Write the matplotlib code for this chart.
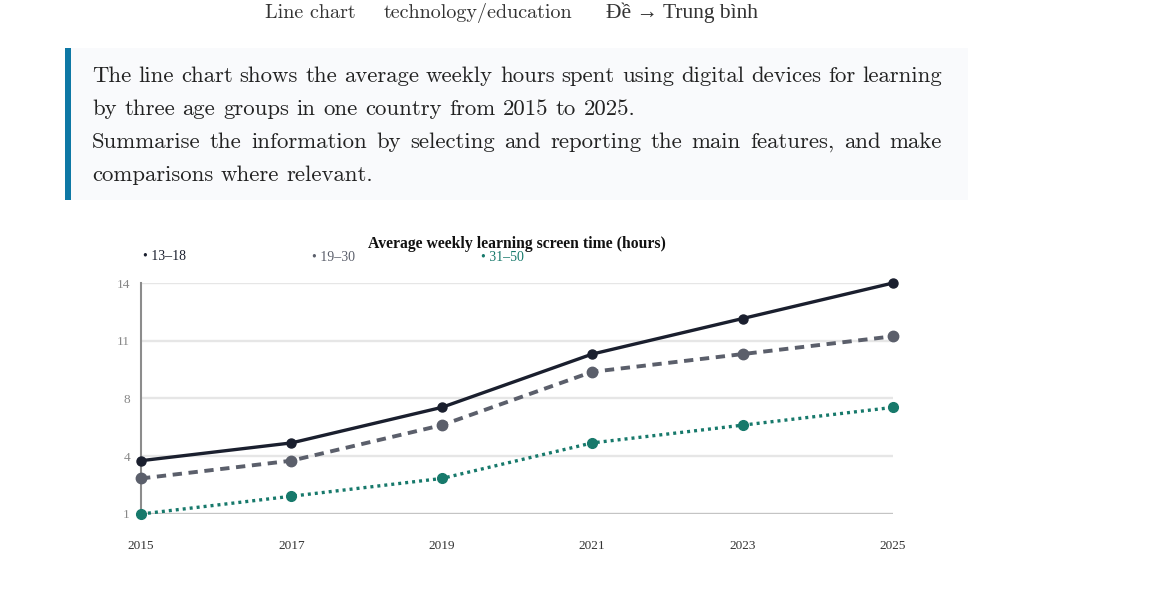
import matplotlib
matplotlib.use("Agg")
import matplotlib.pyplot as plt
from matplotlib.patches import Rectangle

# chart data
years = [2015, 2017, 2019, 2021, 2023, 2025]
age_groups = ["13–18", "19–30", "31–50"]
hours_13_18 = [4, 5, 7, 10, 12, 14]
hours_19_30 = [3, 4, 6, 9, 10, 11]
hours_31_50 = [1, 2, 3, 5, 6, 7]
y_ticks = [1, 4.25, 7.5, 10.75, 14]
y_tick_labels = ["1", "4", "8", "11", "14"]

chart_title = "Average weekly learning screen time (hours)"
header_items = ["Line chart", "technology/education", "Đề → Trung bình"]
para_lines = [
    "The line chart shows the average weekly hours spent using digital devices for learning",
    "by three age groups in one country from 2015 to 2025.",
    "Summarise the information by selecting and reporting the main features, and make",
    "comparisons where relevant.",
]

W, H = 1157, 605
fig = plt.figure(figsize=(W / 100, H / 100), dpi=100)
fig.patch.set_facecolor("white")

def fx(x):
    return x / W

def fy(y):
    return 1 - y / H

page_font = ["cmr10", "DejaVu Serif"]
chart_font = ["Liberation Serif", "DejaVu Serif"]

# header row at the top of the page (Vietnamese part needs a font with its accents)
header_fonts = [page_font, page_font, chart_font]
header_sizes = [14.5, 14.5, 15.5]
for label, x, fam, fs in zip(header_items, [265, 384, 606], header_fonts, header_sizes):
    fig.text(fx(x), fy(18), label, family=fam, fontsize=fs,
             color="#333333", va="baseline", ha="left")

# blockquote box
fig.patches.append(Rectangle((fx(65), fy(200)), fx(968) - fx(65), fy(48) - fy(200),
                             transform=fig.transFigure, facecolor="#f9fafc",
                             edgecolor="none", zorder=0))
fig.patches.append(Rectangle((fx(65), fy(200)), fx(71) - fx(65), fy(48) - fy(200),
                             transform=fig.transFigure, facecolor="#0e78a5",
                             edgecolor="none", zorder=1))

renderer = fig.canvas.get_renderer()

def text_width(s, **kw):
    t = fig.text(0, 0, s, **kw)
    w = t.get_window_extent(renderer).width
    t.remove()
    return w

para_kw = dict(family=page_font, fontsize=16.4, color="#222222")

def put_line(line, x0, y, x1=None):
    words = line.split(" ")
    widths = [text_width(w, **para_kw) for w in words]
    if x1 is None:
        gap = text_width("a a", **para_kw) - text_width("aa", **para_kw)
    else:
        gap = (x1 - x0 - sum(widths)) / (len(words) - 1)
    x = x0
    for w, wd in zip(words, widths):
        fig.text(fx(x), fy(y), w, va="baseline", ha="left", **para_kw)
        x += wd + gap

put_line(para_lines[0], 92, 82, 942)
put_line(para_lines[1], 92, 115)
put_line(para_lines[2], 92, 148, 942)
put_line(para_lines[3], 92, 181)

# chart
ax = fig.add_axes([fx(141), fy(514), fx(893) - fx(141), fy(283) - fy(514)])
ax.set_xlim(2015, 2025)
ax.set_ylim(1, 14)
for v in y_ticks:
    ax.axhline(v, color="#c4c4c4" if v == 1 else "#e6e6e6", lw=1.7, zorder=1)
for s in ["top", "right", "bottom"]:
    ax.spines[s].set_visible(False)
ax.spines["left"].set_color("#8c8c8c")
ax.spines["left"].set_linewidth(1.5)
ax.spines["left"].set_zorder(2)

ax.plot(years, hours_13_18, color="#1a1f2e", lw=2.4, ls="-", marker="o",
        ms=6.5, clip_on=False, zorder=5)
ax.plot(years, hours_19_30, color="#5b5f6b", lw=2.8, ls=(0, (2.4, 1.7)), marker="o",
        ms=7.5, clip_on=False, zorder=4)
ax.plot(years, hours_31_50, color="#17796b", lw=2.4, ls=(0, (0.9, 1.2)), marker="o",
        ms=7, clip_on=False, zorder=3)

ax.set_yticks(y_ticks)
ax.set_yticklabels(y_tick_labels, family=chart_font, fontsize=9.5, color="#888888")
ax.set_xticks(years)
ax.set_xticklabels([str(y) for y in years], family=chart_font, fontsize=9.5, color="#333333")
ax.tick_params(axis="y", length=0, pad=8)
ax.tick_params(axis="x", length=0, pad=19)

fig.text(fx(517), fy(244), chart_title, family=chart_font, fontsize=11.3,
         fontweight="bold", color="#111111", ha="center", va="center")

legend_pos = [(143, 256), (312, 257), (481, 257)]
legend_colors = ["#1a1f2e", "#5b5f6b", "#17796b"]
for name, (x, y), c in zip(age_groups, legend_pos, legend_colors):
    fig.text(fx(x), fy(y), "• " + name, family=chart_font, fontsize=10,
             color=c, ha="left", va="center")

fig.savefig("out.png", dpi=100)
